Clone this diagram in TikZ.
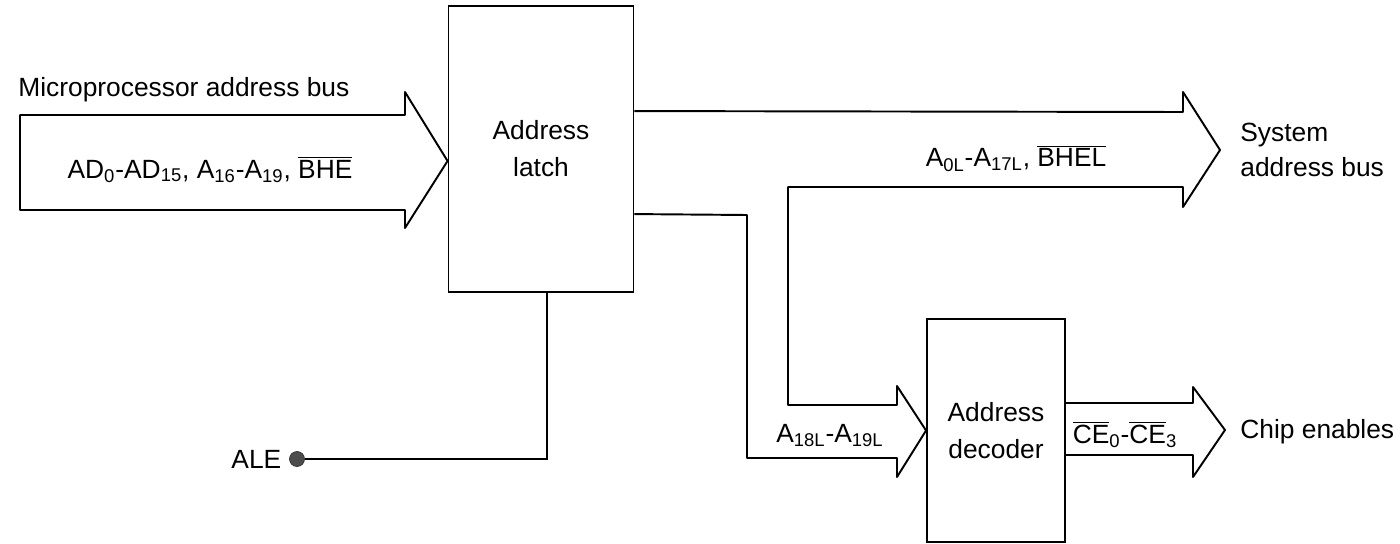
\documentclass[tikz,border=0pt]{standalone}
\usepackage{fontspec}
\setmainfont{Liberation Sans}
\usetikzlibrary{positioning,calc}
\newcommand{\lsub}[1]{\textsubscript{#1}}
\newcommand{\lbar}[1]{\(\overline{\mbox{#1}}\)}
\tikzset{
  addrblock/.style={draw, line width=1.1pt, align=center, inner sep=0pt, font=\fontsize{15}{21}\selectfont},
  busline/.style={draw, line width=1.1pt, line join=round},
  wireline/.style={line width=1.1pt},
  buslabel/.style={inner sep=0pt, font=\fontsize{15}{18}\selectfont},
  enddot/.style={circle, fill=black!70, draw=black!80, minimum size=3mm, inner sep=0pt}
}

\begin{document}
\begin{tikzpicture}[x=0.02cm, y=-0.02cm]
\useasboundingbox (0,0) rectangle (1400,544);
\node[addrblock, minimum width=3.7cm, minimum height=5.72cm] (latch) at (541,149) {Address\\latch};
\node[addrblock, minimum width=2.76cm, minimum height=4.46cm] (dec) at (996,430.5) {Address\\decoder};
% microprocessor bus into the latch
\coordinate (inTip) at ($(latch.west)+(0,12)$);
\draw[busline] (20,115) -- (405,115) -- (405,92) -- (inTip) -- (405,228) -- (405,210) -- (20,210) -- cycle;
% system bus, split off to the decoder
\coordinate (sysTop) at ($(latch.north east)+(0,106)$);
\coordinate (decIn) at ($(latch.north east)+(0,209)$);
\coordinate (sysTip) at (1220,150);
\draw[busline] (sysTop) -- (1183,112) -- (1183,92) -- (sysTip) -- (1183,207) -- (1183,187) -- (788,187) -- (788,405) -- (897,405) -- (897,386) -- (dec.west) -- (897,477) -- (897,458) -- (747,458) -- (747,215) -- (decIn);
% chip enables
\coordinate (ceTip) at (1225,430);
\draw[busline] ($(dec.east)+(0,-27.5)$) -- (1193,403) -- (1193,387) -- (ceTip) -- (1193,477) -- (1193,455) -- ($(dec.east)+(0,24.5)$);
% ALE strobe
\node[enddot] (ale) at (297,459) {};
\node[buslabel, left=1.5mm of ale] (aleText) {ALE};
\draw[wireline] (ale) -| ($(latch.south)+(6,0)$);
% labels
\node[buslabel, anchor=base west] (mpText) at (18,97) {Microprocessor address bus};
\node[buslabel, anchor=base] (adText) at (210,178) {AD\lsub{0}-AD\lsub{15}, A\lsub{16}-A\lsub{19}, \lbar{BHE}};
\node[buslabel, anchor=base] (sysText) at (1016,167) {A\lsub{0L}-A\lsub{17L}, \lbar{BHEL}};
\node[buslabel, anchor=west, align=left, font=\fontsize{15}{20}\selectfont] (sysName) at (1240,150) {System\\address bus};
\node[buslabel, anchor=base] (decText) at (830,442) {A\lsub{18L}-A\lsub{19L}};
\node[buslabel, anchor=base] (ceText) at (1125,443) {\lbar{CE}\lsub{0}-\lbar{CE}\lsub{3}};
\node[buslabel, anchor=west] (chipText) at (1240,432) {Chip enables};
\end{tikzpicture}
\end{document}
